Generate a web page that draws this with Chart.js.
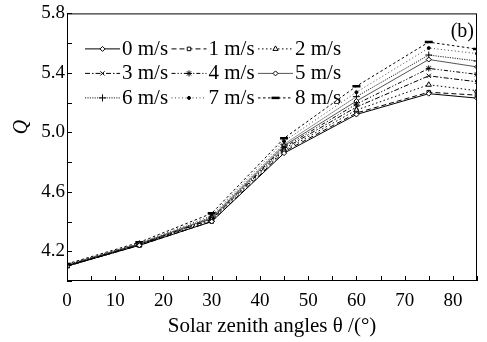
<!DOCTYPE html>
<html><head><meta charset="utf-8">
<script src="https://cdn.jsdelivr.net/npm/chart.js@4/dist/chart.umd.min.js"></script>
<style>html,body{margin:0;padding:0;background:#fff}</style>
</head><body>
<canvas id="c" width="487" height="342"></canvas>
<script>
// ---- data ----
const angles = [0, 15, 30, 45, 60, 75, 85];
const speeds = ['0 m/s', '1 m/s', '2 m/s', '3 m/s', '4 m/s', '5 m/s', '6 m/s', '7 m/s', '8 m/s'];
const q0 = [4.100, 4.240, 4.400, 4.860, 5.120, 5.260, 5.230];
const q1 = [4.100, 4.240, 4.400, 4.870, 5.130, 5.270, 5.250];
const q2 = [4.100, 4.240, 4.410, 4.880, 5.150, 5.320, 5.280];
const q3 = [4.100, 4.245, 4.415, 4.890, 5.170, 5.380, 5.340];
const q4 = [4.105, 4.245, 4.420, 4.900, 5.190, 5.430, 5.390];
const q5 = [4.105, 4.250, 4.425, 4.910, 5.210, 5.490, 5.440];
const q6 = [4.110, 4.250, 4.430, 4.920, 5.240, 5.520, 5.480];
const q7 = [4.110, 4.255, 4.440, 4.940, 5.270, 5.567, 5.530];
const q8 = [4.115, 4.260, 4.455, 4.960, 5.310, 5.607, 5.560];
const seriesValues = [q0, q1, q2, q3, q4, q5, q6, q7, q8];
const xTickLabels = [0, 10, 20, 30, 40, 50, 60, 70, 80];
const yTickLabels = [4.2, 4.6, 5.0, 5.4, 5.8];
const xTitle = 'Solar zenith angles \u03B8 /(\u00B0)';
const yTitle = 'Q';
const panelLabel = '(b)';

// ---- styles ----
const styles = [
  {color:'#000', dash:[], point:'rectRot', r:2.5, pw:1},
  {color:'#000', dash:[5,3], point:'rect', r:2.5, pw:1},
  {color:'#000', dash:[1.5,2.5], point:'triangle', r:3, pw:1},
  {color:'#000', dash:[5,2,1.5,2], point:'crossRot', r:3, pw:1},
  {color:'#000', dash:[4,2,1.2,2,1.2,2], point:'star', r:3, pw:1},
  {color:'#555', dash:[], point:'rectRot', r:2.5, pw:1},
  {color:'#222', dash:[1.2,1.2], point:'cross', r:3.5, pw:1},
  {color:'#444', dash:[1,2.5], point:'circle', r:1.5, pw:1, fill:'#000'},
  {color:'#000', dash:[2.5,2.5], point:'line', r:4, pw:2.5},
];
const FONT = "'Liberation Serif', 'Times New Roman', serif";

const datasets = speeds.map((name, i) => ({
  label: name,
  data: angles.map((a, j) => ({x: a, y: seriesValues[i][j]})),
  borderColor: styles[i].color,
  borderWidth: 1,
  borderDash: styles[i].dash,
  pointStyle: styles[i].point,
  pointRadius: styles[i].r,
  pointBorderWidth: styles[i].pw,
  pointBorderColor: '#000',
  pointBackgroundColor: styles[i].fill || '#fff',
  tension: 0,
  fill: false,
}));

const framePlugin = {
  id: 'frame',
  afterDraw(chart) {
    const {ctx, chartArea: a, scales: {x, y}} = chart;
    ctx.save();
    ctx.strokeStyle = '#000';
    ctx.lineWidth = 1;
    ctx.setLineDash([]);
    ctx.strokeRect(a.left + 0.5, a.top + 0.5, a.right - a.left - 1, a.bottom - a.top - 1);
    ctx.beginPath();
    for (let v = 0; v <= 85; v += 5) {
      const px = Math.round(x.getPixelForValue(v)) + 0.5;
      ctx.moveTo(px, a.bottom); ctx.lineTo(px, a.bottom - 5);
    }
    for (let k = 0; k <= 9; k++) {
      const v = 4.0 + k * 0.2;
      const py = Math.round(y.getPixelForValue(v)) + 0.5;
      ctx.moveTo(a.left, py); ctx.lineTo(a.left + 5, py);
    }
    ctx.stroke();

    ctx.fillStyle = '#000';
    // y axis title
    ctx.save();
    ctx.translate(22, 127);
    ctx.rotate(-Math.PI / 2);
    ctx.font = 'italic 20px ' + FONT;
    ctx.textAlign = 'center';
    ctx.textBaseline = 'middle';
    ctx.fillText(yTitle, 0, 0);
    ctx.restore();

    // panel label
    ctx.font = '20px ' + FONT;
    ctx.textAlign = 'right';
    ctx.textBaseline = 'middle';
    ctx.fillText(panelLabel, a.right - 3, a.top + 18);

    // legend (3 x 3 grid)
    chart.data.datasets.forEach((ds, i) => {
      const col = i % 3, row = Math.floor(i / 3);
      const x0 = a.left + 18 + col * 86.5;
      const yy = a.top + 35 + row * 24.5;
      ctx.save();
      ctx.strokeStyle = ds.borderColor;
      ctx.lineWidth = 1;
      ctx.setLineDash(ds.borderDash);
      ctx.beginPath();
      ctx.moveTo(x0, yy + 0.5); ctx.lineTo(x0 + 35, yy + 0.5);
      ctx.stroke();
      ctx.setLineDash([]);
      ctx.strokeStyle = '#000';
      ctx.fillStyle = ds.pointBackgroundColor;
      ctx.lineWidth = ds.pointBorderWidth;
      Chart.helpers.drawPoint(ctx, {pointStyle: ds.pointStyle, radius: ds.pointRadius, rotation: 0, borderWidth: ds.pointBorderWidth}, x0 + 17.5, yy + 0.5);
      ctx.restore();
      ctx.fillStyle = '#000';
      ctx.font = '21px ' + FONT;
      ctx.textAlign = 'left';
      ctx.textBaseline = 'middle';
      ctx.fillText(ds.label, x0 + 37, yy + 1);
    });
    ctx.restore();
  }
};

new Chart(document.getElementById('c'), {
  type: 'line',
  data: {datasets},
  options: {
    responsive: false,
    animation: false,
    devicePixelRatio: 1,
    layout: {padding: {left: 0, top: 10, right: 10, bottom: 0}},
    plugins: {legend: {display: false}, tooltip: {enabled: false}},
    scales: {
      x: {
        type: 'linear', min: 0, max: 85,
        afterBuildTicks: s => { s.ticks = xTickLabels.map(v => ({value: v})); },
        afterFit: s => { s.height = 61; },
        grid: {display: false, drawTicks: false},
        border: {display: false},
        ticks: {color: '#000', font: {family: FONT, size: 19}, padding: 9, maxRotation: 0,
                callback: v => String(v)},
        title: {display: true, text: xTitle, color: '#000', font: {family: FONT, size: 21},
                padding: {top: 0, bottom: 3}}
      },
      y: {
        type: 'linear', min: 4.0, max: 5.8,
        afterBuildTicks: s => { s.ticks = yTickLabels.map(v => ({value: v})); },
        afterFit: s => { s.width = 67; },
        grid: {display: false, drawTicks: false},
        border: {display: false},
        ticks: {color: '#000', font: {family: FONT, size: 19}, padding: 2,
                callback: v => Number(v).toFixed(1)},
        title: {display: false, text: yTitle}
      }
    }
  },
  plugins: [framePlugin]
});
</script>
</body></html>
